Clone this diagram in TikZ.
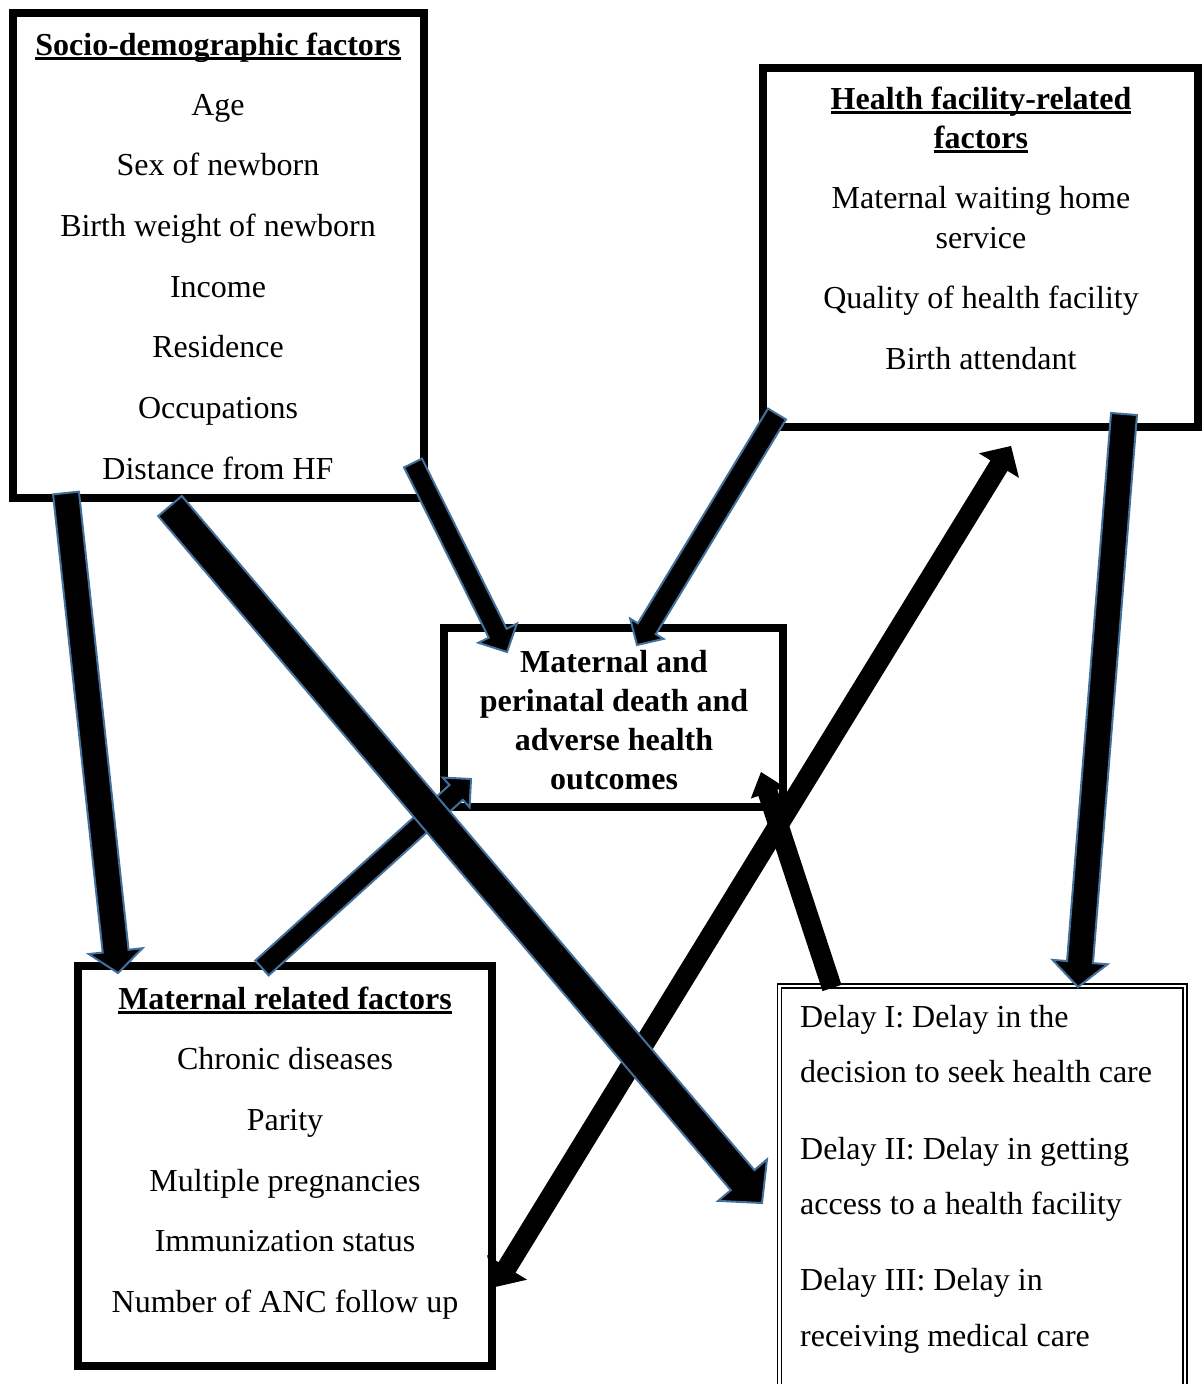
\documentclass[tikz,border=0pt]{standalone}
\usepackage{fontspec}
\setmainfont{Liberation Serif}
\usetikzlibrary{calc}
\definecolor{arrowedge}{RGB}{65,113,156}
\newcommand{\myul}[1]{\leavevmode\setbox0\hbox{#1}\rlap{\rule[-4.5pt]{\wd0}{2.2pt}}\box0}
\newcommand{\blockarrow}[6][]{%
  \path (#3) coordinate (ba-E) ($(#3)!#6!(#2)$) coordinate (ba-H);
  \draw[#1] ($(#2)!#4!90:(#3)$) -- ($(ba-H)!#4!90:(#3)$) -- ($(ba-H)!#5!90:(#3)$) -- (#3)
    -- ($(ba-H)!#5!-90:(#3)$) -- ($(ba-H)!#4!-90:(#3)$) -- ($(#2)!#4!-90:(#3)$) -- cycle;
}
\newcommand{\dblockarrow}[6][]{%
  \path ($(#2)!#6!(#3)$) coordinate (da-H1) ($(#3)!#6!(#2)$) coordinate (da-H2);
  \draw[#1] (#2) -- ($(da-H1)!#5!90:(#3)$) -- ($(da-H1)!#4!90:(#3)$) -- ($(da-H2)!#4!90:(#3)$)
    -- ($(da-H2)!#5!90:(#3)$) -- (#3) -- ($(da-H2)!#5!-90:(#3)$) -- ($(da-H2)!#4!-90:(#3)$)
    -- ($(da-H1)!#4!-90:(#3)$) -- ($(da-H1)!#5!-90:(#3)$) -- cycle;
}
\begin{document}
\begin{tikzpicture}[x=1pt,y=-1pt,
  box/.style={draw=black, line width=7.5pt, fill=white, inner sep=0pt},
  dbox/.style={draw=black, line width=1.4pt, double=white, double distance=2.6pt, inner sep=0pt},
  txt/.style={anchor=base, inner sep=0pt, font=\fontsize{32}{38}\selectfont},
  btxt/.style={txt, font=\fontsize{32}{38}\selectfont\bfseries},
  ltxt/.style={txt, anchor=base west},
  outl/.style={fill=black, draw=arrowedge, line width=2pt, line join=miter},
  solid/.style={fill=black, draw=none}]
\clip (0,0) rectangle (1203,1384);
\fill[white] (0,0) rectangle (1203,1384);

% boxes
\node[box, minimum width=411pt, minimum height=485pt] (socio) at (218.5,255.5) {};
\node[box, minimum width=435pt, minimum height=359pt] (hf) at (980.5,247.5) {};
\node[box, minimum width=339pt, minimum height=179pt] (out) at (613.5,717.5) {};
\node[box, minimum width=414pt, minimum height=400pt] (mat) at (285,1166) {};
\draw[dbox] (779.5,986) rectangle (1185,1420);
\coordinate (delay) at (982,1200);

% socio-demographic text
\node[btxt] (s0) at (218,55) {\myul{Socio-demographic factors}};
\node[txt] (s1) at (218,115) {Age};
\node[txt] (s2) at (218,175) {Sex of newborn};
\node[txt] (s3) at (218,236) {Birth weight of newborn};
\node[txt] (s4) at (218,297) {Income};
\node[txt] (s5) at (218,357) {Residence};
\node[txt] (s6) at (218,418) {Occupations};
\node[txt] (s7) at (218,479) {Distance from HF};

% health facility text
\node[btxt] (h0) at (981,109) {\myul{Health facility-related}};
\node[btxt] (h1) at (981,148) {\myul{factors}};
\node[txt] (h2) at (981,208) {Maternal waiting home};
\node[txt] (h3) at (981,248) {service};
\node[txt] (h4) at (981,308) {Quality of health facility};
\node[txt] (h5) at (981,369) {Birth attendant};

% outcome text
\node[btxt] (o1) at (614,672) {Maternal and};
\node[btxt] (o2) at (614,711) {perinatal death and};
\node[btxt] (o3) at (614,750) {adverse health};
\node[btxt] (o4) at (614,789) {outcomes};

% maternal text
\node[btxt] (m0) at (285,1009) {\myul{Maternal related factors}};
\node[txt] (m1) at (285,1069) {Chronic diseases};
\node[txt] (m2) at (285,1130) {Parity};
\node[txt] (m3) at (285,1191) {Multiple pregnancies};
\node[txt] (m4) at (285,1251) {Immunization status};
\node[txt] (m5) at (285,1312) {Number of ANC follow up};

% delay text
\node[ltxt] (d1) at (800,1027) {Delay I: Delay in the};
\node[ltxt] (d2) at (800,1082) {decision to seek health care};
\node[ltxt] (d3) at (800,1159) {Delay II: Delay in getting};
\node[ltxt] (d4) at (800,1214) {access to a health facility};
\node[ltxt] (d5) at (800,1290) {Delay III: Delay in};
\node[ltxt] (d6) at (800,1346) {receiving medical care};

% arrow end points
\coordinate (a1s) at (66,493);   \coordinate (a1e) at (118,973);
\coordinate (a2s) at (170,506);  \coordinate (a2e) at (762,1203);
\coordinate (a3s) at (413,463);  \coordinate (a3e) at (507,652);
\coordinate (a4s) at (777,414);  \coordinate (a4e) at (637,645);
\coordinate (a5s) at (1124,414); \coordinate (a5e) at (1078,987);
\coordinate (a6s) at (262,968);  \coordinate (a6e) at (471,779);
\coordinate (a7s) at (832,988);  \coordinate (a7e) at (761,772);
\coordinate (a8s) at (1011,446); \coordinate (a8e) at (495,1287);

% arrows
\dblockarrow[solid]{a8s}{a8e}{10pt}{23.5pt}{23pt}
\blockarrow[solid]{a7s}{a7e}{10pt}{18pt}{22pt}
\blockarrow[outl]{a6s}{a6e}{10pt}{20pt}{20pt}
\blockarrow[outl]{a1s}{a1e}{13pt}{27pt}{22pt}
\blockarrow[outl]{a3s}{a3e}{10pt}{21.5pt}{21pt}
\blockarrow[outl]{a4s}{a4e}{10.5pt}{19.5pt}{19pt}
\blockarrow[outl]{a5s}{a5e}{13pt}{27.5pt}{25pt}
\blockarrow[outl]{a2s}{a2e}{15.5pt}{32pt}{30pt}
\end{tikzpicture}
\end{document}
